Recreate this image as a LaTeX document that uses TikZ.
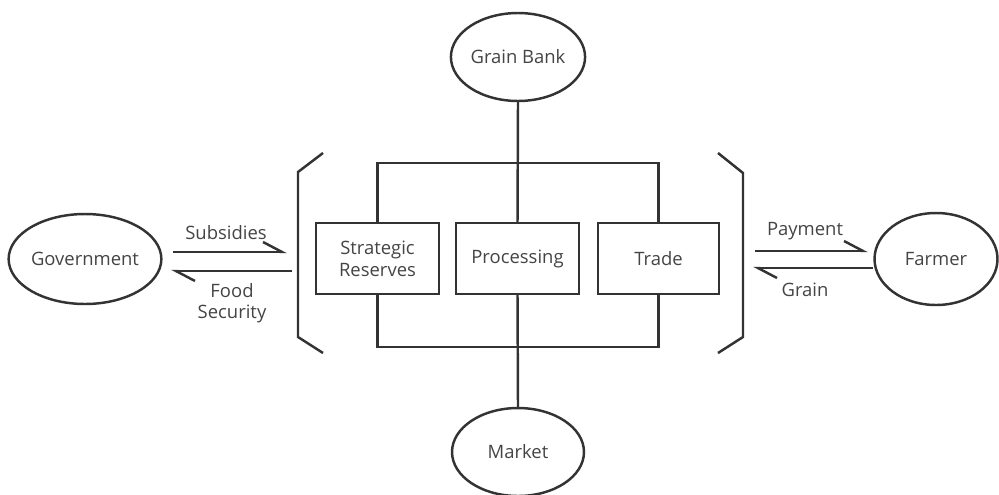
\documentclass[tikz,border=0pt]{standalone}
\usepackage{fontspec}
\setmainfont{Open Sans}
\usetikzlibrary{shapes.geometric,arrows.meta}
\definecolor{ln}{HTML}{333333}
\definecolor{tx}{HTML}{444444}
\begin{document}
\begin{tikzpicture}[x=0.02cm,y=-0.02cm,
  every node/.style={font=\fontsize{10.5}{12.5}\selectfont, text=tx},
  oval/.style={draw=ln, line width=1.4pt, ellipse, inner sep=0pt},
  unitbox/.style={draw=ln, line width=1.4pt, rectangle, inner sep=0pt, minimum height=1.42cm, align=center},
  wire/.style={draw=ln, line width=1.4pt},
  flow/.style={draw=ln, line width=1.4pt, -{Straight Barb[left,length=0.38cm,width=0.4cm]}},
  lbl/.style={align=center, font=\fontsize{10.5}{12}\selectfont}
]
\useasboundingbox (0,0) rectangle (999,494);
% ellipses
\node[oval, minimum width=2.64cm, minimum height=1.76cm] (bank) at (518,57) {Grain Bank};
\node[oval, minimum width=2.64cm, minimum height=1.76cm] (market) at (518,452) {Market};
\node[oval, minimum width=2.88cm, minimum height=1.8cm] (gov) at (85,259) {Government};
\node[oval, minimum width=2.46cm, minimum height=1.84cm] (farmer) at (936,259) {Farmer};
% boxes
\node[unitbox, minimum width=2.46cm] (sr) at (377.5,258.5) {Strategic\\Reserves};
\node[unitbox, minimum width=2.46cm] (pr) at (517.5,258.5) {Processing};
\node[unitbox, minimum width=2.42cm] (tr) at (658.5,258.5) {Trade};
% frame coordinates
\coordinate (tl) at (377.5,163);
\coordinate (tc) at (517.5,163);
\coordinate (trr) at (658.5,163);
\coordinate (bl) at (377.5,347);
\coordinate (bc) at (517.5,347);
\coordinate (br) at (658.5,347);
\draw[wire] (sr.north) -- (tl) -- (trr) -- (tr.north);
\draw[wire] (sr.south) -- (bl) -- (br) -- (tr.south);
\draw[wire] (bank.south) -- (pr.north);
\draw[wire] (pr.south) -- (market.north);
% brackets
\draw[wire] (323,153) -- (298,172) -- (298,337) -- (323,353);
\draw[wire] (718,153) -- (743,173) -- (743,337) -- (718,353);
% flows
\coordinate (s1) at (173,252); \coordinate (s2) at (287,252);
\coordinate (f1) at (292,271); \coordinate (f2) at (171,271);
\coordinate (p1) at (755,251); \coordinate (p2) at (868,251);
\coordinate (g1) at (873,268); \coordinate (g2) at (753,268);
\draw[flow] (s1) -- (s2);
\draw[flow] (f1) -- (f2);
\draw[flow] (p1) -- (p2);
\draw[flow] (g1) -- (g2);
\node[lbl] (lsub) at (226,233) {Subsidies};
\node[lbl] (lfood) at (232,303) {Food\\Security};
\node[lbl] (lpay) at (805,231) {Payment};
\node[lbl] (lgrain) at (805,290) {Grain};
\end{tikzpicture}
\end{document}
